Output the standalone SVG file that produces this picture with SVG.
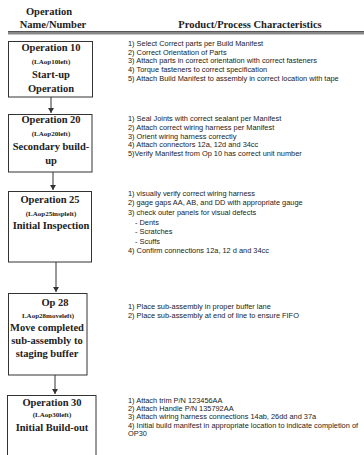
<svg xmlns="http://www.w3.org/2000/svg" width="364" height="455" viewBox="0 0 364 455">
<defs>
<style>
.hd{font-family:"Liberation Serif","Times New Roman",serif;font-weight:bold;font-size:10.5px;fill:#222;text-anchor:middle}
.t{font-family:"Liberation Serif","Times New Roman",serif;font-weight:bold;font-size:10.5px;fill:#222;text-anchor:middle}
.s{font-family:"Liberation Serif","Times New Roman",serif;font-weight:bold;font-size:7px;fill:#222;text-anchor:middle}
.d{font-family:"Liberation Sans",Arial,sans-serif;font-size:7.4px;fill:#222}
.box{fill:#fff;stroke:#333;stroke-width:1}
.c{stroke:#333;stroke-width:1;fill:none}
</style>
<marker id="ah" markerWidth="6" markerHeight="6" refX="5" refY="3" orient="auto" markerUnits="userSpaceOnUse">
<path d="M0,0 L5,3 L0,6 z" fill="#333"/>
</marker>
</defs>
<rect width="364" height="455" fill="#fff"/>
<g id="header">
<text class="hd" x="49" y="15">Operation</text>
<text class="hd" x="53" y="27.5">Name/Number</text>
<text class="hd" x="250" y="27.5">Product/Process Characteristics</text>
<rect x="8" y="31" width="356" height="3.5" fill="#888"/>
<line x1="8" y1="31.5" x2="364" y2="31.5" stroke="#555" stroke-width="1"/>
</g>
<g id="connectors">
<line class="c" x1="51" y1="97" x2="51" y2="113" marker-end="url(#ah)"/>
<line class="c" x1="53" y1="172" x2="53" y2="190" marker-end="url(#ah)"/>
<line class="c" x1="56" y1="262" x2="56" y2="292" marker-end="url(#ah)"/>
<line class="c" x1="55" y1="375" x2="55" y2="394" marker-end="url(#ah)"/>
</g>
<g id="op10">
<rect class="box" x="8.5" y="41.5" width="84" height="55.5"/>
<text class="t" x="51" y="50.5">Operation 10</text>
<text class="s" x="51" y="63.5">(LAop10left)</text>
<text class="t" x="51" y="77.5">Start-up</text>
<text class="t" x="51" y="91.5">Operation</text>
</g>
<g id="op10-text">
<text class="d" x="128" y="45.8">1) Select Correct parts per Build Manifest</text>
<text class="d" x="128" y="54.5">2) Correct Orientation of Parts</text>
<text class="d" x="128" y="63.2">3) Attach parts in correct orientation with correct fasteners</text>
<text class="d" x="128" y="71.9">4) Torque fasteners to correct specification</text>
<text class="d" x="128" y="80.6">5) Attach Build Manifest to assembly in correct location with tape</text>
</g>
<g id="op20">
<rect class="box" x="8.5" y="114.5" width="83.5" height="57.5"/>
<text class="t" x="51" y="123">Operation 20</text>
<text class="s" x="51" y="135.5">(LAop20left)</text>
<text class="t" x="51" y="149.5">Secondary build-</text>
<text class="t" x="51" y="163.5">up</text>
</g>
<g id="op20-text">
<text class="d" x="128" y="121">1) Seal Joints with correct sealant per Manifest</text>
<text class="d" x="128" y="129.8">2) Attach correct wiring harness per Manifest</text>
<text class="d" x="128" y="138.6">3) Orient wiring harness correctly</text>
<text class="d" x="128" y="147.4">4) Attach connectors 12a, 12d and 34cc</text>
<text class="d" x="128" y="156.2">5)Verify Manifest from Op 10 has correct unit number</text>
</g>
<g id="op25">
<rect class="box" x="8.5" y="191.5" width="83" height="70.5"/>
<text class="t" x="50" y="203">Operation 25</text>
<text class="s" x="51" y="215.5">(LAop25insplelt)</text>
<text class="t" x="51" y="228.5">Initial Inspection</text>
</g>
<g id="op25-text">
<text class="d" x="128" y="195.8">1) visually verify correct wiring harness</text>
<text class="d" x="128" y="205.4">2) gage gaps AA,  AB, and DD with appropriate gauge</text>
<text class="d" x="128" y="214.9">3) check outer panels for visual defects</text>
<text class="d" x="135" y="224.5">- Dents</text>
<text class="d" x="135" y="234">- Scratches</text>
<text class="d" x="135" y="243.5">- Scuffs</text>
<text class="d" x="128" y="253.1">4) Confirm connections 12a, 12 d and 34cc</text>
</g>
<g id="op28">
<rect class="box" x="8.5" y="293.5" width="78.5" height="81.5"/>
<text class="t" x="55" y="305.5">Op 28</text>
<text class="s" x="48" y="317.5">LAop28moveleft)</text>
<text class="t" x="47" y="330.5">Move completed</text>
<text class="t" x="47" y="343.5">sub-assembly to</text>
<text class="t" x="47" y="356.5">staging buffer</text>
</g>
<g id="op28-text">
<text class="d" x="128" y="308.5">1) Place sub-assembly in proper buffer lane</text>
<text class="d" x="128" y="317.5">2) Place sub-assembly at end of line to ensure FIFO</text>
</g>
<g id="op30">
<rect class="box" x="7.5" y="395.5" width="88.5" height="70"/>
<text class="t" x="52" y="405.5">Operation 30</text>
<text class="s" x="52" y="417">(LAop30left)</text>
<text class="t" x="52" y="431">Initial Build-out</text>
</g>
<g id="op30-text">
<text class="d" x="128" y="402.5">1) Attach trim P/N 123456AA</text>
<text class="d" x="128" y="410.8">2) Attach Handle P/N 135792AA</text>
<text class="d" x="128" y="419.2">3) Attach wiring harness connections 14ab, 26dd and 37a</text>
<text class="d" x="128" y="427.5">4) Initial build manifest in appropriate location to indicate completion of</text>
<text class="d" x="128" y="435.8">OP30</text>
</g>
</svg>
